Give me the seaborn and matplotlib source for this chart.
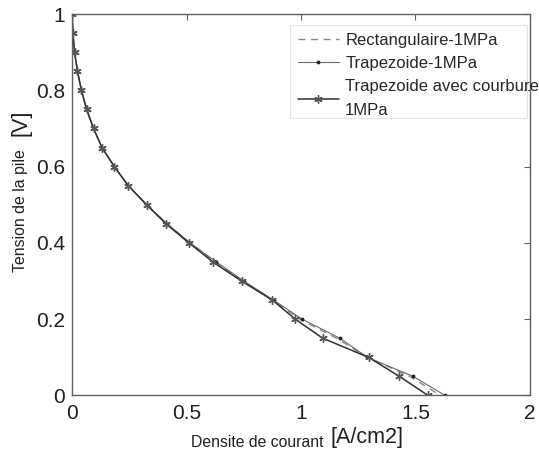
import numpy as np
import pandas as pd
import seaborn as sns
import matplotlib
matplotlib.use("Agg")
import matplotlib.pyplot as plt
from matplotlib.patches import Rectangle

# tension de la pile [V]
tension = [1.0, 0.95, 0.9, 0.85, 0.8, 0.75, 0.7, 0.65, 0.6, 0.55, 0.5,
           0.45, 0.4, 0.35, 0.3, 0.25, 0.2, 0.15, 0.1, 0.05, 0.0]

# densite de courant [A/cm2]
j_rect = [0.0, 0.003, 0.01, 0.023, 0.04, 0.063, 0.093, 0.13, 0.184, 0.245, 0.325,
          0.415, 0.515, 0.625, 0.745, 0.875, 0.995, 1.155, 1.29, 1.475, 1.61]
j_trap = [0.0, 0.003, 0.01, 0.023, 0.04, 0.063, 0.093, 0.13, 0.184, 0.245, 0.325,
          0.415, 0.515, 0.63, 0.75, 0.88, 1.005, 1.17, 1.29, 1.49, 1.63]
j_courb = [0.0, 0.003, 0.01, 0.023, 0.04, 0.063, 0.093, 0.13, 0.184, 0.245, 0.325,
           0.41, 0.51, 0.615, 0.74, 0.875, 0.975, 1.095, 1.295, 1.43, 1.555]

labels = ["Rectangulaire-1MPa", "Trapezoide-1MPa", "Trapezoide avec courbure\n1MPa"]

sns.set_style("white")
plt.rcParams['font.family'] = ['Liberation Sans', 'DejaVu Sans']

fig = plt.figure(figsize=(5.39, 4.53), dpi=100)
ax = fig.add_axes([0.134, 0.127, 0.849, 0.842])

sns.lineplot(x=j_rect, y=tension, ax=ax, sort=False, estimator=None,
             color="#8a8a8a", linestyle=(0, (5, 4)), linewidth=1.0, label=labels[0])
sns.lineplot(x=j_trap, y=tension, ax=ax, sort=False, estimator=None,
             color="#6a6a6a", linewidth=0.8, marker=".", markersize=4,
             markeredgecolor="#202020", markerfacecolor="#202020", label=labels[1])
sns.lineplot(x=j_courb, y=tension, ax=ax, sort=False, estimator=None,
             color="#303030", linewidth=1.1, marker=(6, 2, 0), markersize=6,
             markeredgecolor="#555555", markeredgewidth=1.0, label=labels[2])

ax.set_xlim(0, 2)
ax.set_ylim(0, 1)
ax.set_xticks([0, 0.5, 1, 1.5, 2])
ax.set_xticklabels(["0", "0.5", "1", "1.5", "2"])
ax.set_yticks([0, 0.2, 0.4, 0.6, 0.8, 1])
ax.set_yticklabels(["0", "0.2", "0.4", "0.6", "0.8", "1"])
ax.tick_params(direction="in", length=4, width=0.8, color="#606060",
               labelsize=15, top=True, right=True, labelcolor="#202020")
ax.tick_params(axis="x", pad=6)
ax.tick_params(axis="y", pad=5)
for s in ax.spines.values():
    s.set_color("#606060")
    s.set_linewidth(1.0)

ax.set_xlabel("")
ax.set_ylabel("")
fig.text(0.600, 0.006, "Densite de courant", fontsize=11.3, ha="right", va="bottom", color="#202020")
fig.text(0.614, 0.012, "[A/cm2]", fontsize=15.5, ha="left", va="bottom", color="#202020")
fig.text(0.025, 0.536, "Tension de la pile", fontsize=11.4, rotation=90, ha="left", va="center", color="#202020")
fig.text(0.020, 0.728, "[V]", fontsize=15.5, rotation=90, ha="left", va="center", color="#202020")

leg = ax.legend(loc="upper left", bbox_to_anchor=(0.476, 0.971), borderaxespad=0,
                fontsize=12, handlelength=2.5, handletextpad=0.36, labelspacing=0.5,
                borderpad=0.45, frameon=False)
for t in leg.get_texts():
    t.set_linespacing(1.7)
ax.add_patch(Rectangle((0.476, 0.727), 0.5174, 0.244, transform=ax.transAxes,
                       fill=False, edgecolor="#e4e4e4", linewidth=0.8, zorder=4))

fig.savefig("out.png", dpi=100)
